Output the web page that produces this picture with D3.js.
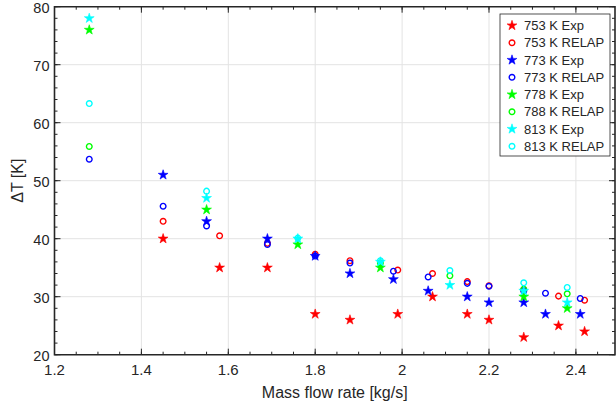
<!DOCTYPE html>
<html><head><meta charset="utf-8">
<script src="https://cdn.jsdelivr.net/npm/d3@7"></script>
<style>body{margin:0;background:#fff;} text{font-family:"Liberation Sans",Arial,sans-serif;fill:#262626;}</style>
</head><body>
<svg id="c" width="616" height="409"></svg>
<script>
const seriesNames = ["753 K Exp","753 K RELAP","773 K Exp","773 K RELAP","778 K Exp","788 K RELAP","813 K Exp","813 K RELAP"];
const seriesColors = ["#ff0000","#ff0000","#0000ff","#0000ff","#00ff00","#00ff00","#00ffff","#00ffff"];
const seriesMarkers = ["star","circle","star","circle","star","circle","star","circle"];

const x753Exp = [1.45,1.58,1.69,1.80,1.88,1.99,2.07,2.15,2.20,2.28,2.36,2.42];
const y753Exp = [40,35,35,27,26,27,30,27,26,23,25,24];
const x753Relap = [1.45,1.58,1.69,1.80,1.88,1.99,2.07,2.15,2.20,2.28,2.36,2.42];
const y753Relap = [43,40.5,39.2,37.3,36.2,34.6,34.0,32.6,31.9,31.2,30.1,29.4];
const x773Exp = [1.45,1.55,1.69,1.80,1.88,1.98,2.06,2.15,2.20,2.28,2.33,2.41];
const y773Exp = [51,43,40,37,34,33,31,30,29,29,27,27];
const x773Relap = [1.28,1.45,1.55,1.69,1.80,1.88,1.98,2.06,2.15,2.20,2.28,2.33,2.41];
const y773Relap = [53.7,45.6,42.2,39.0,37.0,35.8,34.4,33.4,32.3,31.8,31.0,30.6,29.7];
const x778Exp = [1.28,1.55,1.76,1.95,2.28,2.38];
const y778Exp = [76,45,39,35,30,28];
const x788Relap = [1.28,1.95,2.11,2.28,2.38];
const y788Relap = [55.9,35.8,33.6,31.3,30.5];
const x813Exp = [1.28,1.55,1.76,1.95,2.11,2.28,2.38];
const y813Exp = [78,47,40,36,32,31,29];
const x813Relap = [1.28,1.55,1.76,1.95,2.11,2.28,2.38];
const y813Relap = [63.3,48.2,40.1,36.2,34.5,32.4,31.6];

const xTicks = [1.2,1.4,1.6,1.8,2,2.2,2.4];
const yTicks = [20,30,40,50,60,70,80];
const xLabel = "Mass flow rate [kg/s]";
const yLabel = "ΔT [K]";

const seriesX = [x753Exp,x753Relap,x773Exp,x773Relap,x778Exp,x788Relap,x813Exp,x813Relap];
const seriesY = [y753Exp,y753Relap,y773Exp,y773Relap,y778Exp,y788Relap,y813Exp,y813Relap];

const L = 54.5, R = 615, T = 6.7, B = 354.7;
const xs = d3.scaleLinear().domain([1.2, 2.49]).range([L, R]);
const ys = d3.scaleLinear().domain([20, 80]).range([B, T]);
const svg = d3.select("#c");
const axCol = "#262626";

// grid
const g = svg.append("g");
g.selectAll(".gx").data(xTicks.filter(d=>d>1.2)).join("line")
  .attr("x1",d=>xs(d)).attr("x2",d=>xs(d)).attr("y1",T).attr("y2",B)
  .attr("stroke","#e3e3e3").attr("stroke-width",1);
g.selectAll(".gy").data(yTicks.filter(d=>d>20&&d<80)).join("line")
  .attr("y1",d=>ys(d)).attr("y2",d=>ys(d)).attr("x1",L).attr("x2",R)
  .attr("stroke","#e3e3e3").attr("stroke-width",1);

// axes with inward ticks
const minorX = d3.range(1.2, 2.49, 0.05);
const minorY = d3.range(20, 80.01, 2);
const ax = svg.append("g");
function tickLinesX(vals, len, y, dir){
  ax.selectAll(null).data(vals).join("line")
    .attr("x1",d=>xs(d)).attr("x2",d=>xs(d)).attr("y1",y).attr("y2",y+dir*len)
    .attr("stroke",axCol).attr("stroke-width",1);
}
function tickLinesY(vals, len, x, dir){
  ax.selectAll(null).data(vals).join("line")
    .attr("y1",d=>ys(d)).attr("y2",d=>ys(d)).attr("x1",x).attr("x2",x+dir*len)
    .attr("stroke",axCol).attr("stroke-width",1);
}
tickLinesX(minorX, 3, B, -1); tickLinesX(xTicks, 6, B, -1);
tickLinesX(minorX, 3, T, 1); tickLinesX(xTicks, 6, T, 1);
tickLinesY(minorY, 3, L, 1); tickLinesY(yTicks, 6, L, 1);
tickLinesY(minorY, 3, R, -1); tickLinesY(yTicks, 6, R, -1);

// series
const starPath = d3.symbol().type(d3.symbolStar).size(30)();
const circPath = d3.symbol().type(d3.symbolCircle).size(25)();
seriesNames.forEach((name,i)=>{
  const pts = seriesX[i].map((xv,j)=>[xv, seriesY[i][j]]);
  const sg = svg.append("g");
  sg.selectAll("path").data(pts).join("path")
    .attr("transform",d=>`translate(${xs(d[0])},${ys(d[1])})`)
    .attr("d", seriesMarkers[i]==="star" ? starPath : circPath)
    .attr("fill", seriesMarkers[i]==="star" ? seriesColors[i] : "none")
    .attr("stroke", seriesColors[i])
    .attr("stroke-width", seriesMarkers[i]==="star" ? 0.6 : 1.4);
});

// frame
svg.append("path").attr("d",`M${L},${T}H${R}V${B}H${L}Z`).attr("fill","none")
  .attr("stroke",axCol).attr("stroke-width",1.6);

// tick labels
svg.selectAll(".xl").data(xTicks).join("text")
  .attr("x",d=>xs(d)).attr("y",B+20).attr("text-anchor","middle")
  .attr("font-size",15).text(d=>d3.format("")(d));
svg.selectAll(".yl").data(yTicks).join("text")
  .attr("x",L-5).attr("y",d=>ys(d)+5.8).attr("text-anchor","end")
  .attr("font-size",14.5).text(d=>d);

svg.append("text").attr("x",(L+R)/2).attr("y",398).attr("text-anchor","middle")
  .attr("font-size",16).text(xLabel);
svg.append("text").attr("transform",`translate(23,${(T+B)/2}) rotate(-90)`)
  .attr("text-anchor","middle").attr("font-size",16).text(yLabel);

// legend
const lg = svg.append("g");
lg.append("rect").attr("x",500).attr("y",14).attr("width",110).attr("height",142)
  .attr("fill","#fff").attr("stroke",axCol).attr("stroke-width",0.8);
seriesNames.forEach((name,i)=>{
  const yy = 25.5 + i*17.25;
  lg.append("path").attr("transform",`translate(512,${yy})`)
    .attr("d", seriesMarkers[i]==="star" ? starPath : circPath)
    .attr("fill", seriesMarkers[i]==="star" ? seriesColors[i] : "none")
    .attr("stroke", seriesColors[i])
    .attr("stroke-width", seriesMarkers[i]==="star" ? 0.6 : 1.4);
  lg.append("text").attr("x",524).attr("y",yy+4.5).attr("font-size",13).text(name);
});
</script>
</body></html>
